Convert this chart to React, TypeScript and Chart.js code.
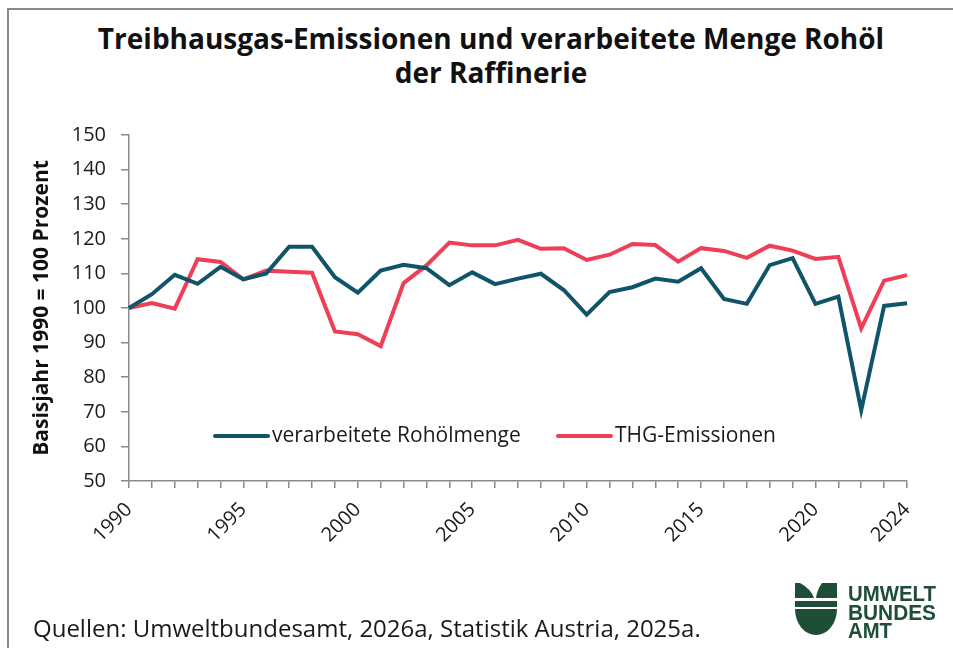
import React, { useEffect, useRef } from "react";
import { Chart, registerables } from "chart.js";

Chart.register(...registerables);

const years: string[] = [
  "1990","1991","1992","1993","1994","1995","1996","1997","1998","1999",
  "2000","2001","2002","2003","2004","2005","2006","2007","2008","2009",
  "2010","2011","2012","2013","2014","2015","2016","2017","2018","2019",
  "2020","2021","2022","2023","2024",
];

const rohoelmenge: number[] = [
  100, 104.0, 109.6, 107.0, 111.9, 108.3, 110.0, 117.7, 117.7, 108.9,
  104.4, 110.8, 112.5, 111.5, 106.6, 110.3, 106.9, 108.5, 109.9, 105.2,
  98.1, 104.6, 106.0, 108.5, 107.6, 111.5, 102.6, 101.2, 112.4, 114.4,
  101.2, 103.3, 70.5, 100.6, 101.4,
];

const thgEmissionen: number[] = [
  100, 101.4, 99.8, 114.1, 113.3, 108.3, 110.8, 110.5, 110.2, 93.2,
  92.4, 89.0, 107.2, 112.3, 118.9, 118.1, 118.1, 119.7, 117.1, 117.3,
  113.9, 115.4, 118.5, 118.2, 113.4, 117.3, 116.5, 114.5, 118.0, 116.6,
  114.2, 114.8, 94.1, 107.9, 109.5,
];

const labeledYears: string[] = ["1990","1995","2000","2005","2010","2015","2020","2024"];

const seriesNames: string[] = ["verarbeitete Rohölmenge", "THG-Emissionen"];
const seriesColors: string[] = ["#0f5468", "#ee3f57"];

const legendPlugin = {
  id: "insideLegend",
  afterDraw(chart: any) {
    const { ctx, chartArea } = chart;
    const items = [
      { dx: 86, color: seriesColors[0], text: seriesNames[0] },
      { dx: 429, color: seriesColors[1], text: seriesNames[1] },
    ];
    const y = 436;
    ctx.save();
    ctx.font = "21px 'Open Sans'";
    ctx.textBaseline = "middle";
    ctx.fillStyle = "#1a1a1a";
    for (const it of items) {
      const x0 = chartArea.left + it.dx;
      ctx.strokeStyle = it.color;
      ctx.lineWidth = 4;
      ctx.lineCap = "round";
      ctx.beginPath();
      ctx.moveTo(x0, y);
      ctx.lineTo(x0 + 53, y);
      ctx.stroke();
      ctx.fillText(it.text, x0 + 57, y);
    }
    ctx.restore();
  },
};

export default function App() {
  const ref = useRef<HTMLCanvasElement | null>(null);

  useEffect(() => {
    if (!ref.current) return;
    const chart = new Chart(ref.current, {
      type: "line",
      data: {
        labels: years,
        datasets: [
          {
            label: seriesNames[0],
            data: rohoelmenge,
            borderColor: seriesColors[0],
            backgroundColor: seriesColors[0],
            borderWidth: 4,
            pointRadius: 0,
            tension: 0,
          },
          {
            label: seriesNames[1],
            data: thgEmissionen,
            borderColor: seriesColors[1],
            backgroundColor: seriesColors[1],
            borderWidth: 4,
            pointRadius: 0,
            tension: 0,
          },
        ],
      },
      options: {
        animation: false,
        responsive: false,
        maintainAspectRatio: false,
        layout: { padding: { left: 29, top: 135, right: 46, bottom: 87 } },
        plugins: {
          legend: { display: false },
          tooltip: { enabled: false },
          title: { display: false },
        },
        scales: {
          x: {
            type: "category",
            offset: false,
            border: { color: "#8a8a8a", width: 1.5 },
            grid: {
              drawOnChartArea: false,
              drawTicks: true,
              tickLength: 7,
              color: "#8a8a8a",
              lineWidth: 1.5,
            },
            ticks: {
              autoSkip: false,
              maxRotation: 45,
              minRotation: 45,
              padding: 10,
              color: "#1a1a1a",
              font: { family: "'Open Sans'", size: 20 },
              callback: function (this: any, value: any) {
                const lab = years[value as number];
                return labeledYears.includes(lab) ? lab : "";
              },
            },
            afterFit: (scale: any) => {
              scale.height = 80;
            },
          },
          y: {
            min: 50,
            max: 150,
            border: { color: "#8a8a8a", width: 1.5 },
            grid: {
              drawOnChartArea: false,
              drawTicks: true,
              tickLength: 8,
              color: "#8a8a8a",
              lineWidth: 1.5,
            },
            ticks: {
              stepSize: 10,
              padding: 15,
              color: "#1a1a1a",
              font: { family: "'Open Sans'", size: 20 },
            },
            title: {
              display: true,
              text: "Basisjahr 1990 = 100 Prozent",
              color: "#111",
              font: { family: "'Open Sans'", size: 21, weight: "bold" },
              padding: { top: 0, bottom: 0 },
            },
            afterFit: (scale: any) => {
              scale.width = 100;
            },
          },
        },
      },
      plugins: [legendPlugin],
    });
    return () => chart.destroy();
  }, []);

  return (
    <div
      style={{
        position: "fixed",
        left: 0,
        top: 0,
        width: 953,
        height: 648,
        background: "#fff",
        overflow: "hidden",
        fontFamily: "'Open Sans', sans-serif",
      }}
    >
      <div
        style={{
          position: "absolute",
          left: 7,
          top: 8,
          width: 960,
          height: 700,
          borderTop: "2px solid #8a8a8a",
          borderLeft: "2px solid #8a8a8a",
        }}
      />
      <div
        style={{
          position: "absolute",
          left: 0,
          width: 982,
          top: 21,
          textAlign: "center",
          fontWeight: 700,
          fontSize: 28,
          lineHeight: "34px",
          color: "#111",
        }}
      >
        Treibhausgas-Emissionen und verarbeitete Menge Rohöl
        <br />
        der Raffinerie
      </div>
      <canvas
        ref={ref}
        width={953}
        height={648}
        style={{ position: "absolute", left: 0, top: 0, width: 953, height: 648 }}
      />
      <div
        style={{
          position: "absolute",
          left: 33,
          top: 612,
          fontSize: 24,
          lineHeight: "32px",
          color: "#1a1a1a",
          whiteSpace: "nowrap",
        }}
      >
        Quellen: Umweltbundesamt, 2026a, Statistik Austria, 2025a.
      </div>
      <svg
        style={{ position: "absolute", left: 795, top: 583 }}
        width={145}
        height={56}
        viewBox="0 0 145 56"
      >
        <g fill="#1f4e37">
          <path d="M0,0 L5,0 Q16,6 19,15 L0,15 Z" />
          <path d="M42,0 L27,0 Q22,7 21,15 L42,15 Z" />
          <rect x={0} y={18} width={42} height={6} />
          <path d="M0,26 L42,26 A21,26 0 0 1 0,26 Z" />
          <text x={53} y={18} fontFamily="'Liberation Sans', Arial" fontWeight="bold" fontSize={22} textLength={88} lengthAdjust="spacingAndGlyphs">UMWELT</text>
          <text x={53} y={37} fontFamily="'Liberation Sans', Arial" fontWeight="bold" fontSize={22} textLength={88} lengthAdjust="spacingAndGlyphs">BUNDES</text>
          <text x={53} y={55} fontFamily="'Liberation Sans', Arial" fontWeight="bold" fontSize={22} textLength={44} lengthAdjust="spacingAndGlyphs">AMT</text>
        </g>
      </svg>
    </div>
  );
}
